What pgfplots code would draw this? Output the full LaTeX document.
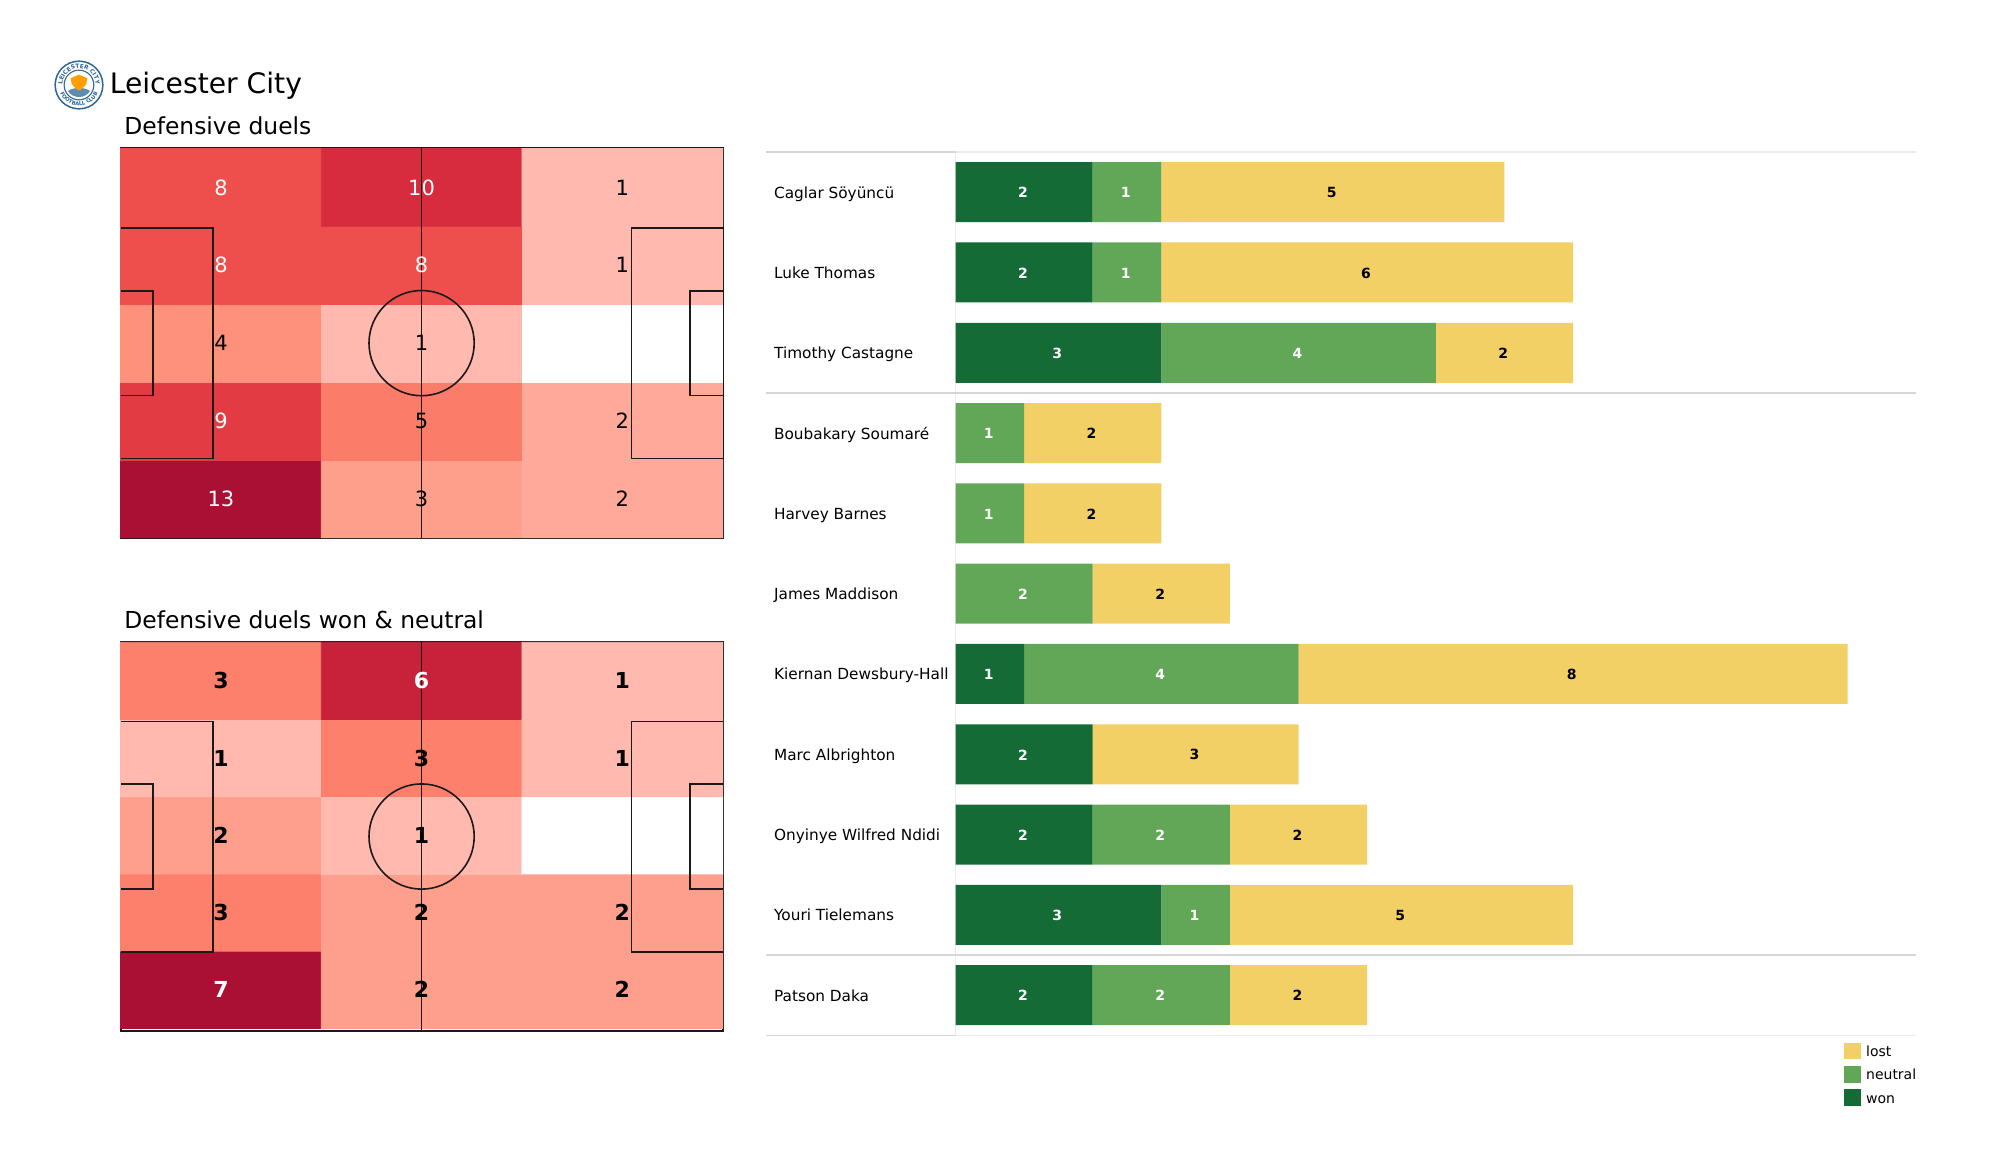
\documentclass[border=0pt]{standalone}
\usepackage{fontspec}
\setmainfont{DejaVu Sans}
\usepackage{pgfplots}
\usepackage{pgfplotstable}
\pgfplotsset{compat=1.18}
\usetikzlibrary{decorations.text}
\definecolor{won}{RGB}{20,107,54}
\definecolor{neutral}{RGB}{98,167,88}
\definecolor{lost}{RGB}{242,208,102}
\definecolor{linegrey}{RGB}{214,214,214}
\definecolor{linelight}{RGB}{236,236,236}
\definecolor{pitchline}{RGB}{30,25,25}
\definecolor{crestblue}{RGB}{40,100,150}

% heat map tables: x, y, count (bottom row first)
\pgfplotstableread{
x y c
17.5 6.8 13
52.5 6.8 3
87.5 6.8 2
17.5 20.4 9
52.5 20.4 5
87.5 20.4 2
17.5 34 4
52.5 34 1
87.5 34 0
17.5 47.6 8
52.5 47.6 8
87.5 47.6 1
17.5 61.2 8
52.5 61.2 10
87.5 61.2 1
}\heatA
\pgfplotstableread{
x y c
17.5 7.16 7
52.5 7.16 2
87.5 7.16 2
17.5 20.68 3
52.5 20.68 2
87.5 20.68 2
17.5 34.2 2
52.5 34.2 1
87.5 34.2 0
17.5 47.72 1
52.5 47.72 3
87.5 47.72 1
17.5 61.24 3
52.5 61.24 6
87.5 61.24 1
}\heatB
% duels per player
\pgfplotstableread{
i won neutral lost
0 2 1 5
1 2 1 6
2 3 4 2
3 0 1 2
4 0 1 2
5 0 2 2
6 1 4 8
7 2 0 3
8 2 2 2
9 3 1 5
10 2 2 2
}\duels
% label positions: centre of every segment
\pgfplotstableread{
m i v
1 0 2
1 1 2
1.5 2 3
0.5 6 1
1 7 2
1 8 2
1.5 9 3
1 10 2
}\labwon
\pgfplotstableread{
m i v
2.5 0 1
2.5 1 1
5 2 4
0.5 3 1
0.5 4 1
1 5 2
3 6 4
3 8 2
3.5 9 1
3 10 2
}\labneutral
\pgfplotstableread{
m i v
5.5 0 5
6 1 6
8 2 2
2 3 2
2 4 2
3 5 2
9 6 8
3.5 7 3
5 8 2
6.5 9 5
5 10 2
}\lablost

\pgfplotsset{
  pitch/.style={
    scale only axis, width=301pt, anchor=south west,
    xmin=0, xmax=105, ymin=0, ymax=68,
    xtick=\empty, ytick=\empty, clip=false,
    axis line style={draw=pitchline, line width=1pt},
    point meta min=0, point meta max=13,
  },
  cellnum/.style={only marks, mark=none, nodes near coords,
    point meta=explicit symbolic,
    nodes near coords style={anchor=center, inner sep=0pt, text=#1}},
  markings/.style={draw=pitchline, line width=0.85pt, no marks, forget plot},
}
\newcommand{\pitchmarks}{
  \addplot[markings] coordinates {(52.5,0) (52.5,68)};
  \addplot[markings] coordinates {(0,13.84) (16.1,13.84) (16.1,54.16) (0,54.16)};
  \addplot[markings] coordinates {(105,13.84) (89.1,13.84) (89.1,54.16) (105,54.16)};
  \addplot[markings] coordinates {(0,24.84) (5.7,24.84) (5.7,43.16) (0,43.16)};
  \addplot[markings] coordinates {(105,24.84) (99.3,24.84) (99.3,43.16) (105,43.16)};
  \draw[pitchline, line width=0.8pt] (axis cs:52.5,34) circle [radius=26.3pt];
}
\begin{document}
\begin{tikzpicture}
\path[use as bounding box] (0,0) rectangle (1000pt,-587.5pt);

% crest
\begin{scope}[shift={(39.5pt,-42.5pt)}]
  \fill[crestblue] (0,0) circle [radius=12.3pt];
  \fill[white] (0,0) circle [radius=11.5pt];
  \fill[crestblue] (0,0) circle [radius=7.7pt];
  \fill[white] (0,0) circle [radius=7.1pt];
  \path[decorate, decoration={text along path, text align=center,
    text={|\fontsize{2.9}{3}\selectfont\bfseries\color{crestblue}|LEICESTER CITY}}]
    (172:8.3pt) arc [start angle=172, end angle=8, radius=8.3pt];
  \path[decorate, decoration={text along path, text align=center,
    text={|\fontsize{2.6}{3}\selectfont\bfseries\color{crestblue}|FOOTBALL CLUB}}]
    (197:10.3pt) arc [start angle=197, end angle=343, radius=10.3pt];
  \fill[crestblue!75] (-5.5pt,-3pt) .. controls (-3pt,-1pt) and (3pt,-1pt) .. (5.5pt,-3pt)
     .. controls (3pt,-7pt) and (-3pt,-7pt) .. cycle;
  \fill[orange!75!yellow] (0,5.2pt) -- (4.2pt,3.4pt) -- (3.6pt,0.4pt) -- (0.8pt,-2.6pt) -- (-0.8pt,-2.6pt) -- (-3.6pt,0.4pt) -- (-4.2pt,3.4pt) -- cycle;
\end{scope}

\node[anchor=base west, inner sep=0pt, font=\fontsize{14.1}{16}\selectfont] at (54.7pt,-46.7pt) {Leicester City};
\node[anchor=base west, inner sep=0pt, font=\fontsize{11.7}{15}\selectfont] at (62pt,-67.3pt) {Defensive duels};
\node[anchor=base west, inner sep=0pt, font=\fontsize{11.7}{15}\selectfont] at (62pt,-314.2pt) {Defensive duels won \& neutral};

% top pitch
\begin{axis}[pitch, at={(60.3pt,-268.9pt)}, height=194.7pt,
  colormap={topreds}{
    rgb255(0cm)=(255,255,255); rgb255(0.2cm)=(255,255,255); rgb255(1cm)=(255,185,174);
    rgb255(2cm)=(255,169,154); rgb255(3cm)=(254,159,140); rgb255(4cm)=(253,145,124);
    rgb255(5cm)=(251,125,105); rgb255(8cm)=(238,79,76); rgb255(9cm)=(227,59,67);
    rgb255(10cm)=(214,44,62); rgb255(13cm)=(170,16,52)}]
  \addplot[matrix plot*, mesh/cols=3, point meta=explicit, forget plot] table[x=x,y=y,meta=c] {\heatA};
  \pitchmarks
  \addplot[cellnum=white, nodes near coords style={font=\fontsize{10.5}{12}\selectfont}] table[meta=v] {
    x y v
    17.5 61.2 8
    52.5 61.2 10
    17.5 47.6 8
    52.5 47.6 8
    17.5 20.4 9
    17.5 6.8 13
  };
  \addplot[cellnum=black, nodes near coords style={font=\fontsize{10.5}{12}\selectfont}] table[meta=v] {
    x y v
    87.5 61.2 1
    87.5 47.6 1
    17.5 34 4
    52.5 34 1
    52.5 20.4 5
    87.5 20.4 2
    52.5 6.8 3
    87.5 6.8 2
  };
\end{axis}

% bottom pitch
\begin{axis}[pitch, at={(60.3pt,-515.35pt)}, height=194.2pt,
  colormap={botreds}{
    rgb255(0cm)=(255,255,255); rgb255(0.2cm)=(255,255,255); rgb255(1cm)=(255,185,174);
    rgb255(2cm)=(253,159,140); rgb255(3cm)=(252,128,107);
    rgb255(6cm)=(200,33,58); rgb255(7cm)=(170,16,52); rgb255(13cm)=(170,16,52)}]
  \addplot[matrix plot*, mesh/cols=3, point meta=explicit, forget plot] table[x=x,y=y,meta=c] {\heatB};
  \pitchmarks
  \addplot[cellnum=white, nodes near coords style={font=\bfseries\fontsize{11}{12}\selectfont}] table[meta=v] {
    x y v
    52.5 61.24 6
    17.5 7.16 7
  };
  \addplot[cellnum=black, nodes near coords style={font=\bfseries\fontsize{11}{12}\selectfont}] table[meta=v] {
    x y v
    17.5 61.24 3
    87.5 61.24 1
    17.5 47.72 1
    52.5 47.72 3
    87.5 47.72 1
    17.5 34.2 2
    52.5 34.2 1
    17.5 20.68 3
    52.5 20.68 2
    87.5 20.68 2
    52.5 7.16 2
    87.5 7.16 2
  };
\end{axis}

% separators
\draw[linelight, line width=0.5pt] (477.75pt,-76pt) -- (477.75pt,-517.6pt);
\draw[linelight, line width=0.6pt] (477.75pt,-76pt) -- (958pt,-76pt);
\draw[linegrey, line width=0.7pt] (383pt,-76pt) -- (477.75pt,-76pt);
\draw[linegrey, line width=0.8pt] (383pt,-196.4pt) -- (958pt,-196.4pt);
\draw[linegrey, line width=0.8pt] (383pt,-477.5pt) -- (958pt,-477.5pt);
\draw[linelight, line width=0.6pt] (477.75pt,-517.6pt) -- (958pt,-517.6pt);
\draw[linegrey, line width=0.7pt] (383pt,-517.6pt) -- (477.75pt,-517.6pt);

% stacked bars
\begin{axis}[scale only axis, anchor=south west, at={(477.75pt,-517.65pt)},
  width=480.3pt, height=441.65pt,
  xbar stacked, bar width=30pt,
  xmin=0, xmax=14, ymin=-0.5, ymax=10.5, y dir=reverse,
  axis lines=none,
  ytick={0,...,10}, xtick=\empty,
  legend style={at={(axis cs:12.945,10.58)}, anchor=north west, draw=none, fill=none,
    inner sep=0pt, outer sep=0pt, row sep=2.1pt, font=\fontsize{7}{8.5}\selectfont,
    nodes={text height=5.5pt, text depth=0pt},
    legend cell align=left, /tikz/every even column/.append style={column sep=0pt}},
  reverse legend,
  legend image code/.code={\fill[#1] (0pt,-4.1pt) rectangle (8.4pt,4.1pt); \path (0pt,0pt) -- (9.2pt,0pt);},
  clip=false]
  \addplot[won, fill=won, draw=none] table[x=won, y=i] {\duels};
  \addplot[neutral, fill=neutral, draw=none] table[x=neutral, y=i] {\duels};
  \addplot[lost, fill=lost, draw=none] table[x=lost, y=i] {\duels};
  \legend{won,neutral,lost}
\end{axis}

% names and labels
\begin{axis}[scale only axis, anchor=south west, at={(477.75pt,-517.65pt)},
  width=480.3pt, height=441.65pt,
  xmin=0, xmax=14, ymin=-0.5, ymax=10.5, y dir=reverse,
  axis x line=none, axis y line=left, y axis line style={draw=none},
  major tick length=0pt, xtick=\empty,
  ytick={0,...,10},
  yticklabels={Caglar Söyüncü, Luke Thomas, Timothy Castagne, Boubakary Soumaré,
    Harvey Barnes, James Maddison, Kiernan Dewsbury-Hall, Marc Albrighton,
    Onyinye Wilfred Ndidi, Youri Tielemans, Patson Daka},
  yticklabel style={anchor=base west, inner sep=0pt, xshift=-90.9pt, yshift=-3pt, font=\fontsize{7.65}{10}\selectfont},
  clip=false]
  \addplot[cellnum=white, nodes near coords style={xshift=-0.6pt, yshift=-0.3pt, font=\bfseries\fontsize{7}{9}\selectfont}] table[x=m, y=i, meta=v] {\labwon};
  \addplot[cellnum=white, nodes near coords style={xshift=-0.6pt, yshift=-0.3pt, font=\bfseries\fontsize{7}{9}\selectfont}] table[x=m, y=i, meta=v] {\labneutral};
  \addplot[cellnum=black, nodes near coords style={xshift=-0.6pt, yshift=-0.3pt, font=\bfseries\fontsize{7}{9}\selectfont}] table[x=m, y=i, meta=v] {\lablost};
\end{axis}
\end{tikzpicture}
\end{document}
